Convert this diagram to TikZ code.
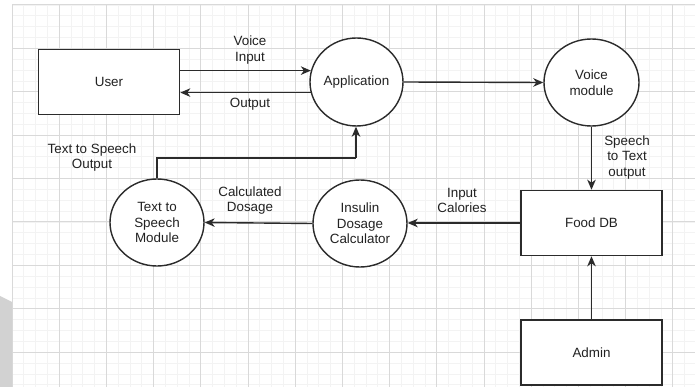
\documentclass[tikz,border=0pt]{standalone}
\usepackage{fontspec}
\setmainfont{Liberation Sans}
\usetikzlibrary{arrows.meta,shapes.geometric}

\definecolor{gridmajor}{HTML}{D9D9D9}
\definecolor{gridminor}{HTML}{F3F3F3}
\definecolor{ink}{HTML}{2B2B2B}
\definecolor{txt}{HTML}{222222}
\definecolor{tab}{HTML}{D2D2D2}

\tikzset{
  base/.style={draw=ink, line width=1.4pt, fill=white, text=txt, align=center,
    font=\fontsize{13.4pt}{15.5pt}\selectfont},
  entity/.style={base, rectangle, line width=1.6pt, minimum width=141pt, minimum height=65pt},
  process/.style={base, ellipse, inner sep=0pt},
  lbl/.style={text=txt, align=center, inner sep=0pt,
    font=\fontsize{13.4pt}{15.5pt}\selectfont},
  flow/.style={draw=ink, line width=1.4pt,
    -{Stealth[length=10pt,width=8.5pt,inset=3pt]}},
  plain/.style={draw=ink, line width=1.4pt}
}

\begin{document}
\begin{tikzpicture}[x=1pt,y=-1pt]
\useasboundingbox (0,0) rectangle (699,387);
\fill[white] (0,0) rectangle (699,387);

% background grid
\begin{scope}
  \clip (12,5) rectangle (695,387);
  \foreach \i in {0,...,58} \draw[gridminor, line width=0.8pt] ({12+11.8*\i},5) -- ({12+11.8*\i},387);
  \foreach \j in {0,...,36} \draw[gridminor, line width=0.8pt] (12,{5+10.85*\j}) -- (695,{5+10.85*\j});
  \foreach \i in {0,...,14} \draw[gridmajor, line width=1pt] ({12+47.2*\i},5) -- ({12+47.2*\i},387);
  \foreach \j in {0,...,9} \draw[gridmajor, line width=1pt] (12,{5+43.4*\j}) -- (695,{5+43.4*\j});
\end{scope}
\fill[tab] (0,296) -- (12,302) -- (12,387) -- (0,387) -- cycle;

% entities and processes
\node[entity] (user) at (109,82) {User};
\node[process, minimum width=93pt, minimum height=88pt] (app) at (356.5,82) {Application};
\node[process, minimum width=95pt, minimum height=87pt] (voice) at (591.5,82.5) {Voice\\module};
\node[entity] (food) at (591.5,223) {Food DB};
\node[entity] (admin) at (591.5,352.5) {Admin};
\node[process, minimum width=94pt, minimum height=87pt] (insulin) at (360,223.5) {Insulin\\Dosage\\Calculator};
\node[process, minimum width=94pt, minimum height=87pt] (tts) at (157,222.5) {Text to\\Speech\\Module};

% data flows
\draw[flow] (user.east |- app.166.3) -- (app.166.3);
\draw[flow] (app.193.7) -- (app.193.7 -| user.east);
\draw[flow] (app.east) -- (voice.west);
\draw[flow] (voice.south) -- (food.north);
\draw[flow] (food.west) -- (food.west -| insulin.east);
\draw[flow] (insulin.west) -- (tts.east);
\draw[flow] (admin.north) -- (food.south);
\coordinate (bendA) at (157,158);
\coordinate (bendB) at (356,158);
\draw[plain] (tts.north) -- (bendA) -- (bendB);
\draw[flow] (bendB) -- (bendB |- app.south);

% flow labels
\node[lbl] (lvoice) at (250,50) {Voice\\Input};
\node[lbl] (lout) at (250,104) {Output};
\node[lbl] (ltts) at (92,157.5) {Text to Speech\\Output};
\node[lbl] (lcalc) at (250,200.5) {Calculated\\Dosage};
\node[lbl] (lcal) at (462,200.5) {Input\\Calories};
\node[lbl] (lstt) at (627,157.5) {Speech\\to Text\\output};
\end{tikzpicture}
\end{document}
